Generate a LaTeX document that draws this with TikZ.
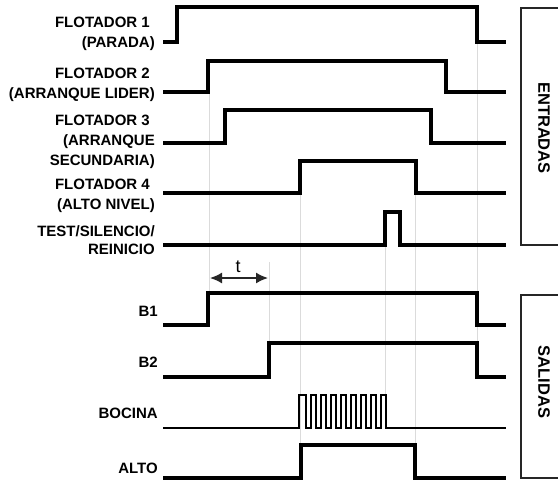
\documentclass[tikz,border=0pt]{standalone}
\usepackage{fontspec}
\setmainfont{Liberation Sans}
\usetikzlibrary{arrows.meta}
\tikzset{
  lbl/.style={anchor=east, inner sep=0pt, align=right, font=\bfseries\fontsize{15}{20}\selectfont},
  sig/.style={line width=3.2pt, line join=miter, line cap=butt, black},
  guide/.style={line width=0.9pt, black!14},
  grp/.style={line width=1.8pt, black!85},
  grptxt/.style={rotate=-90, inner sep=0pt, font=\bfseries\fontsize{16.5}{18}\selectfont}
}
\begin{document}
\begin{tikzpicture}[x=1pt, y=-1pt]
\useasboundingbox[fill=white] (0,0) rectangle (558,480);
% guide lines
\draw[guide] (209,92) -- (209,293);
\draw[guide] (269,262) -- (269,343);
\draw[guide] (300,193) -- (300,445);
\draw[guide] (385,245) -- (385,395);
\draw[guide] (415,193) -- (415,445);
\draw[guide] (477,42) -- (477,343);
% labels
\node[lbl] (f1) at (155,33.5) {FLOTADOR 1\hspace*{5pt}\\(PARADA)};
\node[lbl] (f2) at (155,84.5) {FLOTADOR 2\hspace*{5pt}\\(ARRANQUE LIDER)};
\node[lbl] (f3) at (155,141.5) {FLOTADOR 3\hspace*{5pt}\\(ARRANQUE\hspace*{5pt}\\SECUNDARIA)};
\node[lbl] (f4) at (155,196) {FLOTADOR 4\hspace*{5pt}\\(ALTO NIVEL)};
\node[lbl, font=\bfseries\fontsize{15}{18}\selectfont] (ts) at (155,240) {TEST/SILENCIO/\\REINICIO};
\node[lbl] (b1) at (158,311) {B1};
\node[lbl] (b2) at (158,362) {B2};
\node[lbl] (bo) at (158,413) {BOCINA};
\node[lbl] (al) at (158,468) {ALTO};
% input signals
\draw[sig] (163,42) -- (177,42) -- (177,7) -- (477,7) -- (477,42) -- (506,42);
\draw[sig] (163,92) -- (208,92) -- (208,61) -- (446,61) -- (446,92) -- (506,92);
\draw[sig] (163,143) -- (225,143) -- (225,110) -- (431,110) -- (431,143) -- (506,143);
\draw[sig] (163,193) -- (300,193) -- (300,161) -- (416,161) -- (416,193) -- (506,193);
\draw[sig] (163,245) -- (385,245) -- (385,212) -- (400,212) -- (400,245) -- (506,245);
% output signals
\draw[sig] (163,325) -- (208,325) -- (208,293) -- (477,293) -- (477,325) -- (506,325);
\draw[sig] (163,377) -- (269,377) -- (269,343) -- (477,343) -- (477,377) -- (506,377);
\draw[sig, line width=2.5pt] (163,428) -- (299,428) -- (299,395) -- (306,395) -- (306,428)
  \foreach \k in {0,...,7} { -- ({311+10*\k},428) -- ({311+10*\k},395) -- ({316+10*\k},395) -- ({316+10*\k},428) }
  -- (506,428);
\draw[sig] (163,478) -- (301,478) -- (301,445) -- (415,445) -- (415,478) -- (506,478);
% t delay
\coordinate (ta) at (210,278);
\coordinate (tb) at (268,278);
\draw[line width=1.6pt, black!85, {Latex[length=12pt,width=11pt]}-{Latex[length=12pt,width=11pt]}] (ta) -- (tb);
\node[inner sep=0pt, font=\fontsize{18}{20}\selectfont] (tl) at (238,267) {t};
% group boxes
\draw[grp] (558,8) -- (521,8) -- (521,245) -- (558,245);
\node[grptxt] (en) at (544,128) {ENTRADAS};
\draw[grp] (558,295) -- (521,295) -- (521,478) -- (558,478);
\node[grptxt] (sa) at (544,382) {SALIDAS};
\end{tikzpicture}
\end{document}
